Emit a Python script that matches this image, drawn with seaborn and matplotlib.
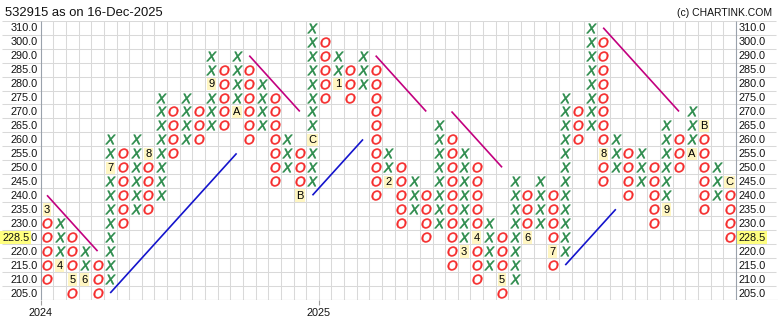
import matplotlib
matplotlib.use("Agg")
import matplotlib.pyplot as plt
import seaborn as sns
import numpy as np
import pandas as pd

# ---------------- data ----------------
levels = [310, 300, 290, 285, 280, 275, 270, 265, 260, 255,
          250, 245, 240, 235, 230, 225, 220, 215, 210, 205]
level_labels = ["310.0", "300.0", "290.0", "285.0", "280.0", "275.0", "270.0",
                "265.0", "260.0", "255.0", "250.0", "245.0", "240.0", "235.0",
                "230.0", "225.0", "220.0", "215.0", "210.0", "205.0"]
last_price = 228.5
last_price_level = 225

col_types = list("OXOXOXOXOXOXOXOXOXOXOXOXOXOXOXOXOXOXOXOXOXOXOXOXOXOXOXO")
col_tops = [235, 230, 225, 220, 215, 260, 255, 260, 255, 275, 270, 275, 270, 290,
            285, 290, 285, 280, 275, 260, 255, 310, 300, 290, 285, 290, 285, 255,
            250, 245, 240, 265, 260, 255, 250, 230, 225, 245, 240, 245, 240, 275,
            270, 310, 300, 260, 255, 255, 250, 265, 260, 270, 265, 250, 245]
col_bottoms = [210, 215, 205, 210, 205, 210, 230, 235, 235, 240, 255, 260, 260, 265,
               265, 270, 260, 265, 245, 250, 240, 245, 275, 280, 275, 280, 240, 245,
               230, 235, 225, 230, 215, 220, 210, 215, 205, 210, 225, 230, 215, 220,
               260, 265, 245, 250, 240, 245, 230, 235, 250, 255, 235, 240, 225]

# month markers: (column, price, label)
month_cols = [0, 1, 2, 3, 5, 8, 13, 15, 20, 21, 23, 27, 33, 34, 36, 38, 40, 44, 49, 51, 52, 54]
month_prices = [235, 215, 210, 210, 250, 255, 280, 270, 240, 260, 280, 245, 220, 225,
                210, 225, 220, 255, 235, 255, 265, 245]
month_labels = ["3", "4", "5", "6", "7", "8", "9", "A", "B", "C", "1", "2", "3", "4",
                "5", "6", "7", "8", "9", "A", "B", "C"]

# trend lines: (col start, price start, col end, price end)
down_lines = [(0, 240, 4, 220), (16, 290, 20, 270), (26, 290, 30, 270),
              (32, 270, 36, 250), (44, 310, 50, 270)]
up_lines = [(5, 205, 15, 255), (21, 240, 25, 260), (41, 215, 45, 235)]

year_labels = ["2024", "2025"]
year_boundary_cols = [0, 22]

title = "532915 as on 16-Dec-2025"
credit = "(c) CHARTINK.COM"

# ---------------- build cell table ----------------
lvl_idx = {v: i for i, v in enumerate(levels)}
month_set = {(c, p) for c, p in zip(month_cols, month_prices)}
recs = []
for c, (t, top, bot) in enumerate(zip(col_types, col_tops, col_bottoms)):
    for r in range(lvl_idx[top], lvl_idx[bot] + 1):
        if (c, levels[r]) in month_set:
            continue
        recs.append({"col": c, "row": r, "kind": t})
cells = pd.DataFrame(recs)

# ---------------- style ----------------
sns.set_theme(style="white")
plt.rcParams["font.family"] = ["Liberation Sans", "DejaVu Sans"]
plt.rcParams["mathtext.fontset"] = "custom"
plt.rcParams["mathtext.it"] = "Liberation Sans:italic"
plt.rcParams["mathtext.rm"] = "Liberation Sans"

W, H = 778, 330
fig = plt.figure(figsize=(W / 100, H / 100), dpi=100)
fig.patch.set_facecolor("white")
grid_top_px, grid_bot_px = 20.7, 300.0
ax = fig.add_axes([0, (H - grid_bot_px) / H, 1, (grid_bot_px - grid_top_px) / H])
ax.set_axis_off()

colw = 12.64
left_px = 40.7
x0 = -0.5 - left_px / colw
x1 = x0 + W / colw
ncol = len(col_types)

gridc = "#D9D9D9"
ax.hlines(np.arange(-0.5, len(levels) - 0.5, 1), x0 + 0.15, x1 - 0.15, color=gridc, lw=0.75, zorder=1)
ax.vlines(np.arange(0.5, ncol - 0.5, 1), -0.5, len(levels) - 0.5, color=gridc, lw=0.75, zorder=1)
ax.hlines([len(levels) - 0.5], x0, x1, color="#A8A8A8", lw=0.8, zorder=2)
ax.vlines([-0.5, ncol - 0.5], -0.5, len(levels) - 0.5, color="#9AA2AC", lw=0.8, zorder=2)
ticks = [b - 0.5 for b in year_boundary_cols]
ax.vlines(ticks, len(levels) - 0.5, len(levels) - 0.5 + 5 / 13.965, color="#A0A0A0", lw=0.8,
          zorder=2, clip_on=False)

# X / O boxes
green = "#2A8A4A"
red = "#F52A2A"
xs = cells[cells.kind == "X"]
os_ = cells[cells.kind == "O"]
sns.scatterplot(data=xs, x="col", y="row", marker=r"$X$", s=50, color=green,
                edgecolor=green, linewidth=0.45, ax=ax, zorder=4, legend=False)
sns.scatterplot(data=os_, x="col", y="row", marker=r"$O$", s=48, color=red,
                edgecolor=red, linewidth=0.45, ax=ax, zorder=4, legend=False)
ax.set_xlim(x0, x1)
ax.set_ylim(len(levels) - 0.5, -0.5)
ax.set_axis_off()

# month markers
for c, p, lab in zip(month_cols, month_prices, month_labels):
    ax.text(c, lvl_idx[p] + 0.04, lab, ha="center", va="center", fontsize=8, color="black",
            zorder=5, bbox=dict(boxstyle="square,pad=0.12", fc="#FFF6C2", ec="none"))

# trend lines
for c0, p0, c1, p1 in down_lines:
    ax.plot([c0, c1], [lvl_idx[p0], lvl_idx[p1]], color="#C2007E", lw=1.2, zorder=3,
            solid_capstyle="butt")
for c0, p0, c1, p1 in up_lines:
    ax.plot([c0, c1], [lvl_idx[p0], lvl_idx[p1]], color="#1414CC", lw=1.2, zorder=3,
            solid_capstyle="butt")

# price labels
lx = x0 + 37.8 / colw
rx = x0 + 738.5 / colw
for i, lab in enumerate(level_labels):
    ax.text(lx, i + 0.05, lab, ha="right", va="center", fontsize=7.8, color="#111111", zorder=5)
    ax.text(rx, i + 0.05, lab, ha="left", va="center", fontsize=7.8, color="#111111", zorder=5)
ri = lvl_idx[last_price_level]
lp = f"{last_price:.1f}"
ax.text(x0 + 29.3 / colw, ri + 0.05, lp, ha="right", va="center", fontsize=7.8, color="#111111",
        zorder=6, bbox=dict(boxstyle="square,pad=0.15", fc="#FFFF80", ec="none"))
ax.text(rx, ri + 0.05, lp, ha="left", va="center", fontsize=7.8, color="#111111",
        zorder=6, bbox=dict(boxstyle="square,pad=0.15", fc="#FFFF80", ec="none"))

# year labels
yy = -0.5 + (313 - grid_top_px) / 13.965
for t, lab in zip(ticks, year_labels):
    ax.text(t, yy, lab, ha="center", va="center", fontsize=7.8, color="#111111", clip_on=False)

fig.text(5 / W, 1 - 13 / H, title, ha="left", va="center", fontsize=9.4, color="#111111")
fig.text(772 / W, 1 - 13 / H, credit, ha="right", va="center", fontsize=7.5, color="#111111")

fig.savefig("out.png", dpi=100, facecolor="white")
